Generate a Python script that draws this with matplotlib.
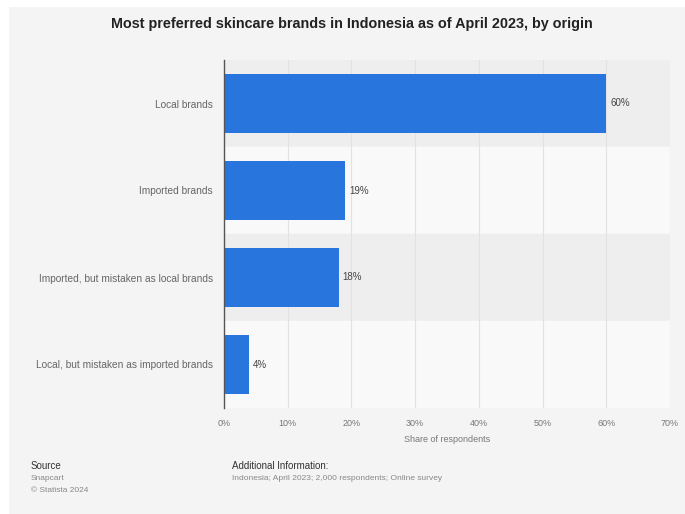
import matplotlib.pyplot as plt
from matplotlib.patches import Rectangle

plt.rcParams['font.family'] = ['Liberation Sans', 'DejaVu Sans']

# data
categories = ['Local brands', 'Imported brands', 'Imported, but mistaken as local brands',
              'Local, but mistaken as imported brands']
shares = [60, 19, 18, 4]
ticks = [0, 10, 20, 30, 40, 50, 60, 70]

fig = plt.figure(figsize=(6.85, 5.14), dpi=100)
fig.patch.set_facecolor('white')
# light gray panel behind everything
fig.patches.append(Rectangle((9 / 685, 0), 1, 1 - 7 / 514, transform=fig.transFigure,
                             facecolor='#f4f4f4', edgecolor='none', zorder=-10))

ax = fig.add_axes([224 / 685, 1 - 408 / 514, 446 / 685, 348 / 514])
ax.set_facecolor('none')

# alternating row bands
for i in range(len(categories)):
    ax.axhspan(i - 0.5, i + 0.5, color='#eeeeee' if i % 2 == 0 else '#f9f9f9', zorder=0)

ax.barh(range(len(categories)), shares, height=0.68, color='#2876dd', zorder=3)
for i, v in enumerate(shares):
    ax.text(v + 0.6, i, f'{v}%', va='center', ha='left', fontsize=7, color='#444444', zorder=4)

ax.set_xlim(0, 70)
ax.set_ylim(len(categories) - 0.5, -0.5)
ax.set_xticks(ticks)
ax.set_xticklabels([f'{t}%' for t in ticks], fontsize=6.5, color='#777777')
ax.set_yticks(range(len(categories)))
ax.set_yticklabels(categories, fontsize=7.3, color='#666666')
ax.tick_params(axis='both', length=0)
ax.tick_params(axis='y', pad=8)
ax.tick_params(axis='x', pad=8)
ax.xaxis.grid(True, color='#e2e2e2', linewidth=0.8, zorder=1)
ax.set_axisbelow(True)
for s in ['top', 'right', 'bottom']:
    ax.spines[s].set_visible(False)
ax.spines['left'].set_color('#555555')
ax.spines['left'].set_linewidth(1)
ax.spines['left'].set_zorder(5)
ax.set_xlabel('Share of respondents', fontsize=6.5, color='#777777', labelpad=5)

fig.text(352 / 685, 1 - 24 / 514, 'Most preferred skincare brands in Indonesia as of April 2023, by origin',
         ha='center', va='center', fontsize=10.4, fontweight='bold', color='#222222')

fig.text(31 / 685, 1 - 466 / 514, 'Source', fontsize=7, color='#333333', va='center')
fig.text(31 / 685, 1 - 478 / 514, 'Snapcart', fontsize=6, color='#888888', va='center')
fig.text(31 / 685, 1 - 490 / 514, '© Statista 2024', fontsize=6, color='#888888', va='center')
fig.text(232 / 685, 1 - 466 / 514, 'Additional Information:', fontsize=7, color='#333333', va='center')
fig.text(232 / 685, 1 - 478 / 514, 'Indonesia; April 2023; 2,000 respondents; Online survey',
         fontsize=6, color='#888888', va='center')

fig.savefig('out.png', dpi=100)
